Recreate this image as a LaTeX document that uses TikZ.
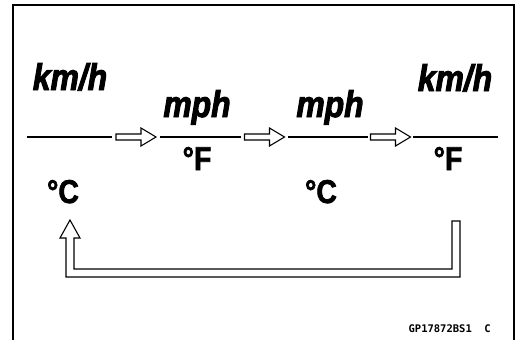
\documentclass[tikz,border=0pt]{standalone}
\usepackage{fontspec}
\usetikzlibrary{calc}
\newfontfamily\unitfont{Liberation Sans}[FakeStretch=0.86, FakeBold=2.6]
\newfontfamily\tempfont{Liberation Sans}[FakeStretch=0.86, FakeBold=2]
\newfontfamily\codefont{DejaVu Sans Mono}

\begin{document}
\begin{tikzpicture}[x=1pt, y=-1pt,
    unit/.style={anchor=base, inner sep=0pt, font=\unitfont\bfseries\itshape\fontsize{37}{37}\selectfont},
    temp/.style={anchor=base, inner sep=0pt, font=\tempfont\bfseries\fontsize{33}{33}\selectfont},
    bar/.style={line width=1.7pt},
    steparrow/.pic={
        \draw[line width=1.1pt] (-20,-3) -- (5,-3) -- (5,-9) -- (20,0)
            -- (5,9) -- (5,3) -- (-20,3) -- cycle;
    }]
    \useasboundingbox (0,0) rectangle (522,340);

    % Frame (open at the bottom)
    \draw[line width=2.2pt] (13,340) -- (13,5) -- (514,5) -- (514,340);

    % Display bars
    \foreach \a/\b [count=\i] in {27/112, 160/241, 288/368, 413/498} {
        \coordinate (s\i a) at (\a,137);
        \coordinate (s\i b) at (\b,137);
        \draw[bar] (s\i a) -- (s\i b);
    }

    % Step arrows
    \pic (a1) at ($(s1b)!0.5!(s2a)$) {steparrow};
    \pic (a2) at ($(s2b)!0.5!(s3a)$) {steparrow};
    \pic (a3) at ($(s3b)!0.5!(s4a)$) {steparrow};

    % Units
    \node[unit] (u1) at (70,90) {km/h};
    \node[unit] (u2) at (197,117) {mph};
    \node[unit] (u3) at (330,117) {mph};
    \node[unit] (u4) at (455,91) {km/h};
    \node[temp] (t1) at (63,203) {°C};
    \node[temp] (t2) at (197,170) {°F};
    \node[temp] (t3) at (321,203) {°C};
    \node[temp] (t4) at (448,170) {°F};

    % Return arrow
    \draw[line width=1.1pt] (460,221) -- (460,277) -- (66,277) -- (66,238) -- (60,238)
        -- (70,220) -- (80,238) -- (74,238) -- (74,269) -- (452,269) -- (452,221) -- cycle;

    \node[anchor=base east, inner sep=0pt, font=\codefont\bfseries\fontsize{10.5}{10.5}\selectfont]
        (code) at (491,332) {GP17872BS1\ \ C};
\end{tikzpicture}
\end{document}
